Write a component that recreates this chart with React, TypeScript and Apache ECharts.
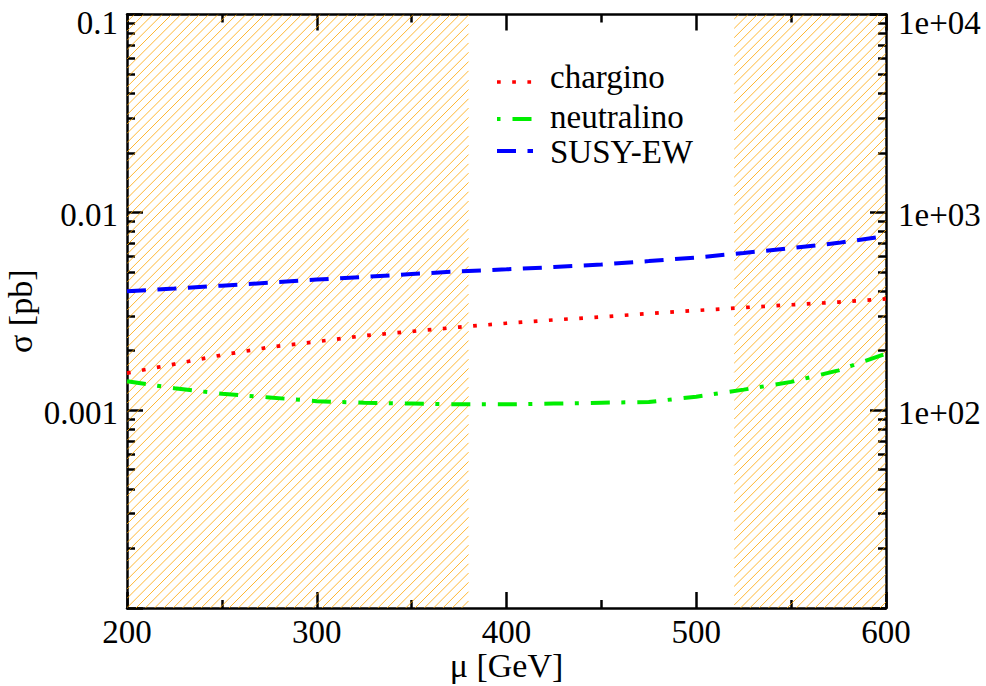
import React, { useEffect, useRef } from 'react';
import * as echarts from 'echarts';

// ---------- data ----------
const muValues = [200, 225, 250, 275, 300, 325, 350, 375, 400, 425, 450, 475, 500, 525, 550, 575, 600];
const chargino = [0.00154, 0.00171, 0.0019, 0.00208, 0.00222, 0.00238, 0.0025, 0.00263, 0.00275, 0.00286, 0.00296, 0.00308, 0.00319, 0.0033, 0.00341, 0.00352, 0.00365];
const neutralino = [0.0014, 0.00129, 0.00121, 0.00116, 0.00111, 0.00109, 0.00108, 0.00107, 0.00107, 0.00108, 0.00109, 0.0011, 0.00117, 0.00127, 0.00139, 0.00159, 0.00193];
const susyEW = [0.00399, 0.00412, 0.00426, 0.00441, 0.00457, 0.00471, 0.00488, 0.00503, 0.00515, 0.00529, 0.00545, 0.00567, 0.00591, 0.00623, 0.0066, 0.00701, 0.00759];
const seriesNames = ['chargino', 'neutralino', 'SUSY-EW'];
const excludedRanges = [[200, 380], [520, 600]];

const xMin = 200;
const xMax = 600;
const xInterval = 100;
const yMin = 1e-4;
const yMax = 0.1;
const y2Min = 10;
const y2Max = 1e4;
const leftTickValues = [0.001, 0.01, 0.1];
const leftTickLabels = ['0.001', '0.01', '0.1'];
const rightTickValues = [1e2, 1e3, 1e4];
const rightTickLabels = ['1e+02', '1e+03', '1e+04'];
const xAxisName = 'μ [GeV]';
const yAxisName = 'σ [pb]';

const minorTicks = (lo: number, hi: number) => {
  const out: number[] = [];
  for (let d = lo; d < hi; d++) {
    for (let m = 2; m <= 9; m++) out.push(m * Math.pow(10, d));
  }
  return out;
};
const leftMinor = minorTicks(-4, -1);
const rightMinor = minorTicks(1, 4);

// ---------- styles ----------
const FONT = 'Liberation Serif';
const AXIS_W = 2.5;
const colors = ['#ff0000', '#00ee00', '#0000ff'];
const dashes = [[3.7, 11.5], [19, 11.5, 4, 12], [19, 11.5]];
const widths = [3.7, 4, 4];

const labelFor = (v: number, values: number[], labels: string[], maxV: number) => {
  const lv = Math.log10(v);
  for (let i = 0; i < values.length; i++) {
    if (Math.abs(Math.log10(values[i]) - lv) < 0.01) {
      return Math.abs(Math.log10(maxV) - lv) < 0.01 ? `{t|${labels[i]}}` : labels[i];
    }
  }
  return '';
};

export default function App() {
  const ref = useRef<HTMLDivElement>(null);
  useEffect(() => {
    if (!ref.current) return;
    const chart = echarts.init(ref.current, undefined, { renderer: 'svg' });
    const grid = { left: 127, top: 14.5, width: 759, height: 593.5 };
    const axisLine = { show: true, lineStyle: { color: '#000', width: AXIS_W } };

    const xCommon = {
      type: 'value' as const,
      min: xMin,
      max: xMax,
      interval: xInterval,
      axisLine,
      axisTick: { show: true, inside: true, length: 16, lineStyle: { color: '#000', width: AXIS_W } },
      minorTick: { show: true, splitNumber: 2, length: 8, lineStyle: { color: '#000', width: AXIS_W } },
      splitLine: { show: false },
      minorSplitLine: { show: false },
    };

    const yLabelCommon = {
      show: true,
      fontFamily: FONT,
      fontSize: 33,
      color: '#000',
      verticalAlign: 'top',
      lineHeight: 6,
      rich: { t: { fontFamily: FONT, fontSize: 33, color: '#000', lineHeight: 17 } },
    };

    const mkLegend = () => {
      const lineYs = [82, 119, 151];
      const textYs = [77, 117, 152];
      const offsets = [0, 30.5, 0];
      const children: any[] = [];
      seriesNames.forEach((n, i) => {
        children.push({
          type: 'line',
          shape: { x1: 497, y1: lineYs[i], x2: 533, y2: lineYs[i] },
          style: { stroke: colors[i], lineWidth: widths[i], lineDash: dashes[i], lineDashOffset: offsets[i] },
        });
        children.push({
          type: 'text',
          x: 550,
          y: textYs[i],
          style: { text: n, fontFamily: FONT, fontSize: 33, lineHeight: 28, fill: '#000', verticalAlign: 'middle', align: 'left' },
        });
      });
      return children;
    };

    const option: any = {
      animation: false,
      backgroundColor: '#fff',
      grid: { ...grid, containLabel: false, outerBoundsMode: 'none' },
      xAxis: [
        {
          ...xCommon,
          position: 'bottom',
          name: xAxisName,
          nameLocation: 'middle',
          nameGap: 42,
          nameMoveOverlap: false,
          nameTextStyle: { fontFamily: FONT, fontSize: 34, color: '#000', lineHeight: 30 },
          axisLabel: { show: true, margin: 9, fontFamily: FONT, fontSize: 33, color: '#000', lineHeight: 30 },
        },
        {
          ...xCommon,
          position: 'top',
          axisLabel: { show: false },
        },
      ],
      yAxis: [
        {
          type: 'log',
          logBase: 10,
          min: yMin,
          max: yMax,
          position: 'left',
          axisLine,
          axisTick: { show: true, inside: true, length: 16, customValues: [1e-4, ...leftTickValues], lineStyle: { color: '#000', width: AXIS_W } },
          splitLine: { show: false },
          name: yAxisName,
          nameLocation: 'middle',
          nameGap: 90,
          nameMoveOverlap: false,
          nameTextStyle: { fontFamily: FONT, fontSize: 34, color: '#000' },
          axisLabel: {
            ...yLabelCommon,
            margin: 9,
            customValues: leftTickValues,
            formatter: (v: number) => labelFor(v, leftTickValues, leftTickLabels, yMax),
          },
        },
        {
          type: 'log',
          logBase: 10,
          min: y2Min,
          max: y2Max,
          position: 'right',
          axisLine,
          axisTick: { show: true, inside: true, length: 16, customValues: [10, ...rightTickValues], lineStyle: { color: '#000', width: AXIS_W } },
          splitLine: { show: false },
          axisLabel: {
            ...yLabelCommon,
            margin: 12,
            customValues: rightTickValues,
            formatter: (v: number) => labelFor(v, rightTickValues, rightTickLabels, y2Max),
          },
        },
        {
          type: 'log',
          logBase: 10,
          min: yMin,
          max: yMax,
          position: 'left',
          axisLine: { show: false },
          axisTick: { show: true, inside: true, length: 8, customValues: leftMinor, lineStyle: { color: '#000', width: AXIS_W } },
          axisLabel: { show: false },
          splitLine: { show: false },
        },
        {
          type: 'log',
          logBase: 10,
          min: y2Min,
          max: y2Max,
          position: 'right',
          axisLine: { show: false },
          axisTick: { show: true, inside: true, length: 8, customValues: rightMinor, lineStyle: { color: '#000', width: AXIS_W } },
          axisLabel: { show: false },
          splitLine: { show: false },
        },
      ],
      series: [
        {
          type: 'custom',
          name: 'excluded',
          xAxisIndex: 0,
          yAxisIndex: 0,
          silent: true,
          clip: true,
          encode: { x: [0, 1] },
          data: excludedRanges,
          renderItem: (params: any, api: any) => {
            const p0 = api.coord([api.value(0), yMax]);
            const p1 = api.coord([api.value(1), yMin]);
            const x0 = p0[0], y0 = p0[1], x1 = p1[0], y1 = p1[1];
            const step = 9.3;
            const children: any[] = [];
            const cStart = Math.ceil((x0 + y0) / step) * step;
            for (let c = cStart; c <= x1 + y1; c += step) {
              const xs = Math.max(x0, c - y1);
              const xe = Math.min(x1, c - y0);
              if (xe <= xs) continue;
              children.push({
                type: 'line',
                shape: { x1: xs, y1: c - xs, x2: xe, y2: c - xe },
                style: { stroke: '#ffa500', lineWidth: 1, opacity: 0.8 },
              });
            }
            return { type: 'group', children };
          },
          z: 1,
        },
        ...[chargino, neutralino, susyEW].map((vals, i) => ({
          type: 'line',
          name: seriesNames[i],
          xAxisIndex: 0,
          yAxisIndex: 0,
          data: muValues.map((m, j) => [m, vals[j]]),
          showSymbol: false,
          symbol: 'none',
          smooth: false,
          lineStyle: { color: colors[i], width: widths[i], type: dashes[i], cap: 'butt' },
          z: 3,
        })),
      ],
      graphic: mkLegend(),
    };
    chart.setOption(option);
    return () => chart.dispose();
  }, []);
  return <div ref={ref} style={{ position: 'absolute', left: 0, top: 0, width: 986, height: 686 }} />;
}
